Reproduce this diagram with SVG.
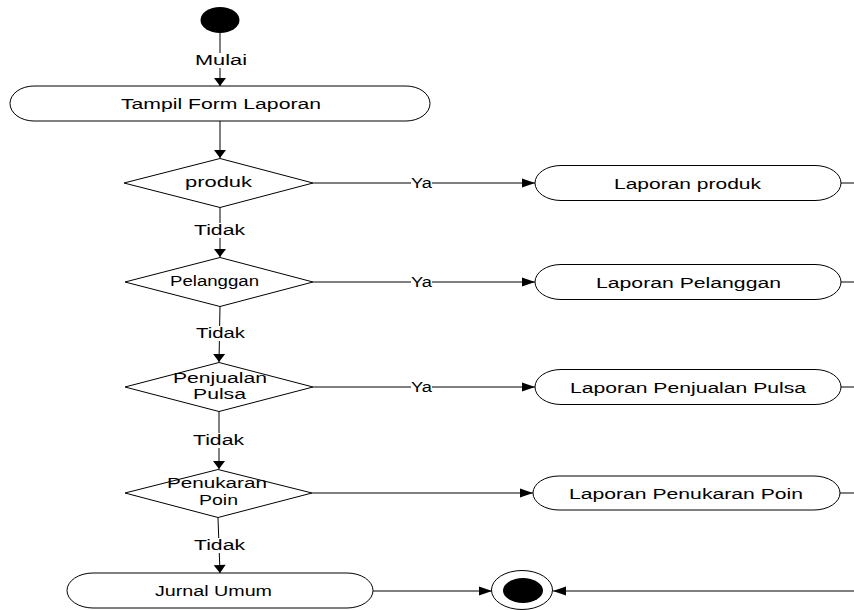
<svg xmlns="http://www.w3.org/2000/svg" width="854" height="610" viewBox="0 0 854 610">
<style>
.shape{fill:#fff;stroke:#000;stroke-width:1}
.line{fill:none;stroke:#000;stroke-width:1}
.t{font-family:"Liberation Sans",Arial,sans-serif;font-size:14px;fill:#000}
.b{font-size:15.5px}
.bg{fill:#fff}
</style>
<defs>
<marker id="aV" markerUnits="userSpaceOnUse" markerWidth="10" markerHeight="14" viewBox="0 -7 9 14" refX="8" refY="0" orient="auto"><path d="M0,-6 L8,0 L0,6 z" fill="#000"/></marker>
<marker id="aH" markerUnits="userSpaceOnUse" markerWidth="15" markerHeight="12" viewBox="0 -6 14 12" refX="13" refY="0" orient="auto"><path d="M0,-4.5 L13,0 L0,4.5 z" fill="#000"/></marker>
</defs>
<g id="connectors">
<line class="line" x1="220" y1="33" x2="220" y2="86" marker-end="url(#aV)"/>
<line class="line" x1="220" y1="121" x2="220" y2="158" marker-end="url(#aV)"/>
<line class="line" x1="220" y1="207" x2="220" y2="257" marker-end="url(#aV)"/>
<line class="line" x1="220" y1="306" x2="219" y2="362" marker-end="url(#aV)"/>
<line class="line" x1="219" y1="411" x2="219" y2="469" marker-end="url(#aV)"/>
<line class="line" x1="218" y1="518" x2="220" y2="573" marker-end="url(#aV)"/>
<line class="line" x1="313" y1="183" x2="535" y2="183" marker-end="url(#aH)"/>
<line class="line" x1="313" y1="282" x2="535" y2="282" marker-end="url(#aH)"/>
<line class="line" x1="313" y1="387" x2="535" y2="387" marker-end="url(#aH)"/>
<line class="line" x1="312" y1="493" x2="533" y2="493" marker-end="url(#aH)"/>
<line class="line" x1="841" y1="183" x2="854" y2="183"/>
<line class="line" x1="841" y1="282" x2="854" y2="282"/>
<line class="line" x1="841" y1="387" x2="854" y2="387"/>
<line class="line" x1="840" y1="493" x2="854" y2="493"/>
<line class="line" x1="373" y1="591" x2="492" y2="591" marker-end="url(#aH)"/>
<line class="line" x1="854" y1="591" x2="553" y2="591" marker-end="url(#aH)"/>
<rect class="bg" x="195" y="53" width="52" height="15"/>
<text class="t" x="195" y="65" textLength="52" lengthAdjust="spacingAndGlyphs">Mulai</text>
<rect class="bg" x="194" y="223" width="51" height="15"/>
<text class="t" x="194" y="235" textLength="51" lengthAdjust="spacingAndGlyphs">Tidak</text>
<rect class="bg" x="196" y="326" width="49" height="15"/>
<text class="t" x="196" y="338" textLength="49" lengthAdjust="spacingAndGlyphs">Tidak</text>
<rect class="bg" x="193" y="433" width="51" height="15"/>
<text class="t" x="193" y="445" textLength="51" lengthAdjust="spacingAndGlyphs">Tidak</text>
<rect class="bg" x="194" y="538" width="51" height="15"/>
<text class="t" x="194" y="550" textLength="51" lengthAdjust="spacingAndGlyphs">Tidak</text>
<rect class="bg" x="411" y="176" width="21" height="14"/>
<text class="t" x="411" y="188" textLength="21" lengthAdjust="spacingAndGlyphs">Ya</text>
<rect class="bg" x="411" y="275" width="21" height="14"/>
<text class="t" x="411" y="287" textLength="21" lengthAdjust="spacingAndGlyphs">Ya</text>
<rect class="bg" x="411" y="380" width="21" height="14"/>
<text class="t" x="411" y="392" textLength="21" lengthAdjust="spacingAndGlyphs">Ya</text>
</g>
<g id="start"><ellipse cx="220" cy="20" rx="19.5" ry="13" fill="#000"/></g>
<g id="tampil">
<rect class="shape" x="10" y="86" width="420" height="35" rx="24" ry="17.5"/>
<text class="t b" x="121" y="109" textLength="200" lengthAdjust="spacingAndGlyphs">Tampil Form Laporan</text>
</g>
<g id="d-produk">
<polygon class="shape" points="124,183 220,158.5 313,183 220,207.5"/>
<text class="t" x="185" y="187" textLength="67" lengthAdjust="spacingAndGlyphs">produk</text>
</g>
<g id="d-pelanggan">
<polygon class="shape" points="125,282 220,257.5 313,282 220,306.5"/>
<text class="t" x="170" y="286" textLength="89" lengthAdjust="spacingAndGlyphs">Pelanggan</text>
</g>
<g id="d-penjualan">
<polygon class="shape" points="125,387 219,362.5 313,387 219,411.5"/>
<text class="t" x="173" y="383" textLength="94" lengthAdjust="spacingAndGlyphs">Penjualan</text>
<text class="t" x="193" y="399" textLength="53" lengthAdjust="spacingAndGlyphs">Pulsa</text>
</g>
<g id="d-penukaran">
<polygon class="shape" points="125,493 218,469.5 312,493 218,517.5"/>
<text class="t" x="167" y="488" textLength="100" lengthAdjust="spacingAndGlyphs">Penukaran</text>
<text class="t" x="199" y="505" textLength="39" lengthAdjust="spacingAndGlyphs">Poin</text>
</g>
<g id="lap-produk">
<rect class="shape" x="535" y="165.5" width="306" height="35" rx="26" ry="17.5"/>
<text class="t b" x="614" y="188.5" textLength="147" lengthAdjust="spacingAndGlyphs">Laporan produk</text>
</g>
<g id="lap-pelanggan">
<rect class="shape" x="535" y="264.5" width="306" height="35" rx="26" ry="17.5"/>
<text class="t b" x="596" y="287.5" textLength="185" lengthAdjust="spacingAndGlyphs">Laporan Pelanggan</text>
</g>
<g id="lap-penjualan">
<rect class="shape" x="535" y="369.5" width="306" height="35" rx="26" ry="17.5"/>
<text class="t b" x="570" y="392.5" textLength="236" lengthAdjust="spacingAndGlyphs">Laporan Penjualan Pulsa</text>
</g>
<g id="lap-penukaran">
<rect class="shape" x="533" y="476" width="307" height="34" rx="26" ry="17"/>
<text class="t b" x="569" y="498.5" textLength="234" lengthAdjust="spacingAndGlyphs">Laporan Penukaran Poin</text>
</g>
<g id="jurnal">
<rect class="shape" x="67" y="573" width="306" height="35" rx="26" ry="17.5"/>
<text class="t b" x="155" y="595.5" textLength="117" lengthAdjust="spacingAndGlyphs">Jurnal Umum</text>
</g>
<g id="end">
<ellipse class="shape" cx="522" cy="590" rx="30.5" ry="19.5"/>
<ellipse cx="523" cy="590.5" rx="20" ry="12.5" fill="#000"/>
</g>
</svg>
